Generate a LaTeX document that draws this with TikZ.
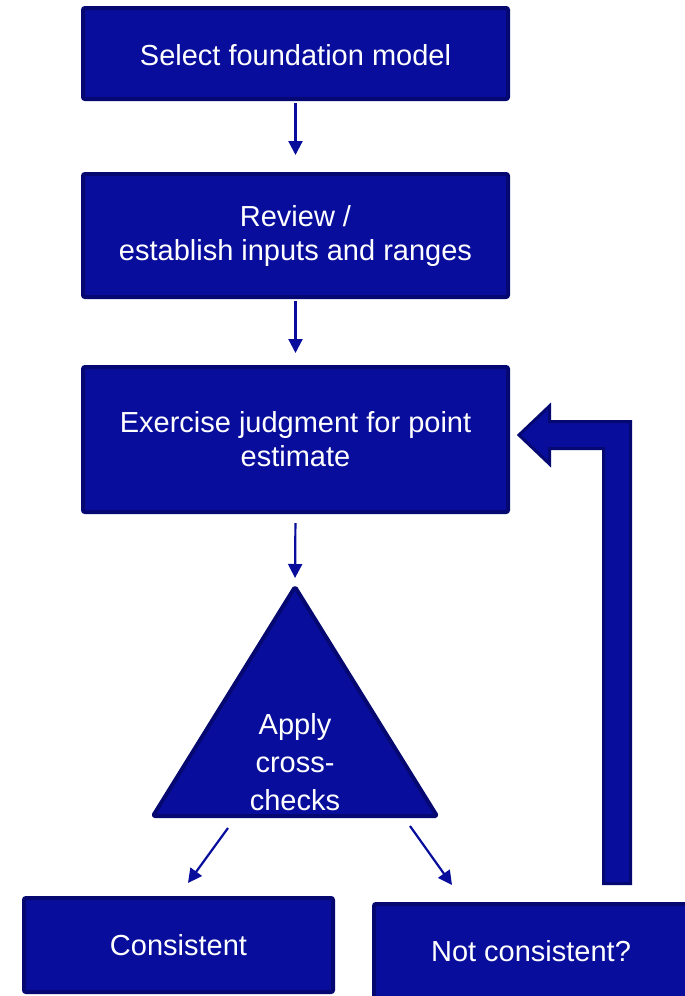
\documentclass[tikz,border=0pt]{standalone}
\usepackage{fontspec}
\setmainfont{Liberation Sans}
\usetikzlibrary{arrows.meta}
\definecolor{boxblue}{RGB}{8,14,155}
\definecolor{edgeblue}{RGB}{4,8,112}

\begin{document}
\begin{tikzpicture}
[x=1pt,y=-1pt,>={Triangle[length=14pt,width=14pt]},
box/.style={draw=edgeblue,fill=boxblue,line width=4pt,rounded corners=2pt,text=white,align=center,inner sep=0pt,font=\fontsize{29}{34}\selectfont},
link/.style={draw=boxblue,line width=2.2pt,->},]
%Page
\clip (0,0) rectangle (685,996);

%Process boxes
\node (S) at (295.5,53.5)[box,minimum width=425pt,minimum height=91pt,text height=24pt] {Select foundation model};
\node (R) at (295.5,235.5)[box,minimum width=425pt,minimum height=123pt] {Review /\\establish inputs and ranges};
\node (E) at (295.5,439.5)[box,minimum width=425pt,minimum height=145pt] {Exercise judgment for point\\estimate};

%Cross-check triangle
\coordinate (T) at (295,585);
\draw[draw=edgeblue,fill=boxblue,line width=4pt,line join=round,rounded corners=1.5pt] (295,587) -- (437,816) -- (153,816) -- cycle;
\node (X) at (295,762)[text=white,align=center,font=\fontsize{29}{38}\selectfont] {Apply\\cross-\\checks};

%Outcomes
\node (C) at (178.5,945)[box,minimum width=309pt,minimum height=94pt] {Consistent};
\node (N) at (531,951)[box,minimum width=314pt,minimum height=94pt] {Not consistent?};

%Arrows
\draw[link,shorten <=2pt,shorten >=17pt] (S.south) -- (R.north);
\draw[link,shorten <=2pt,shorten >=12pt] (R.south) -- (E.north);
\draw[link,shorten <=9pt,shorten >=7pt] (E.south) -- (T);
\coordinate (ls) at (228,828);
\coordinate (lt) at (188,883);
\coordinate (rs) at (410,826);
\coordinate (rt) at (452,885);
\draw[link] (ls) -- (lt);
\draw[link] (rs) -- (rt);

%Feedback arrow
\draw[draw=edgeblue,fill=boxblue,line width=3pt] (630.5,883.5) -- (630.5,421.5) -- (549.5,421.5) -- (549.5,406) -- (519,435) -- (549.5,464) -- (549.5,448.5) -- (603.5,448.5) -- (603.5,883.5) -- cycle;
\end{tikzpicture}
\end{document}
